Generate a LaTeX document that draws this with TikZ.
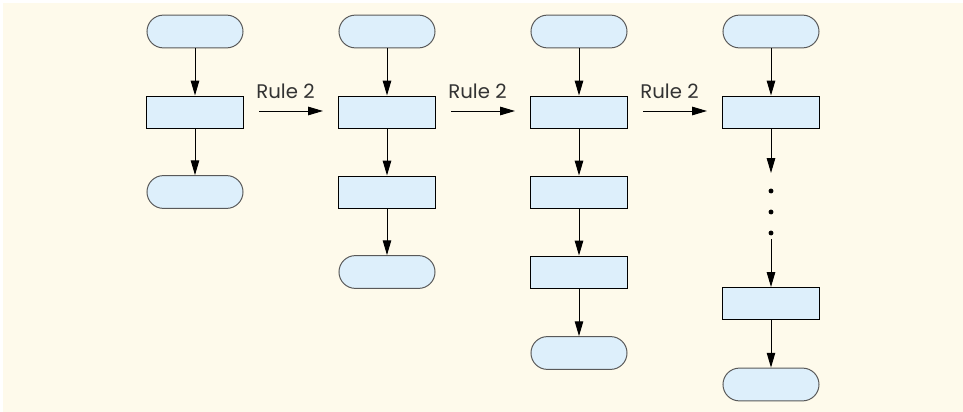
\documentclass[tikz,border=0pt]{standalone}
\usepackage{fontspec}
\setmainfont{Poppins}
\usetikzlibrary{arrows.meta}

\begin{document}
\begin{tikzpicture}[x=0.025cm, y=-0.025cm, >={Triangle[length=10.5pt,width=6pt]},
	font=\fontsize{14}{16}\selectfont,
	term/.style={draw=black!65, fill=boxblue, line width=0.7pt, minimum width=2.4cm, minimum height=0.82cm, rounded corners=0.41cm, inner sep=0pt},
	proc/.style={draw=black, fill=boxblue, line width=0.7pt, minimum width=2.4cm, minimum height=0.8cm, inner sep=0pt},
	flow/.style={->, line width=0.7pt},
	dot/.style={circle, fill=black, inner sep=0pt, minimum size=3.5pt}]
		\definecolor{cream}{RGB}{254,250,235}
		\definecolor{boxblue}{RGB}{221,239,251}
		
		% 背景
		\fill[white] (0,0) rectangle (963,412);
		\fill[cream] (3,3) rectangle (963,412);
		\useasboundingbox (0,0) rectangle (963,412);
		
		% 第一列
		\node[term] (t11) at (195,31.5) {};
		\node[proc] (p11) at (195,112) {};
		\node[term] (t12) at (195,192) {};
		\draw[flow] (t11) -- (p11);
		\draw[flow] (p11) -- (t12);
		
		% 第二列
		\node[term] (t21) at (387,31.5) {};
		\node[proc] (p21) at (387,112) {};
		\node[proc] (p22) at (387,192) {};
		\node[term] (t22) at (387,272) {};
		\draw[flow] (t21) -- (p21);
		\draw[flow] (p21) -- (p22);
		\draw[flow] (p22) -- (t22);
		
		% 第三列
		\node[term] (t31) at (579,31.5) {};
		\node[proc] (p31) at (579,112) {};
		\node[proc] (p32) at (579,192) {};
		\node[proc] (p33) at (579,272) {};
		\node[term] (t32) at (579,353) {};
		\draw[flow] (t31) -- (p31);
		\draw[flow] (p31) -- (p32);
		\draw[flow] (p32) -- (p33);
		\draw[flow] (p33) -- (t32);
		
		% 第四列（省略号）
		\node[term] (t41) at (771,31.5) {};
		\node[proc] (p41) at (771,112) {};
		\coordinate (c41) at (771,173);
		\node[dot] (d1) at (771,191) {};
		\node[dot] (d2) at (771,212) {};
		\node[dot] (d3) at (771,233) {};
		\coordinate (c42) at (771,239);
		\node[proc] (p42) at (771,303.5) {};
		\node[term] (t42) at (771,384.5) {};
		\draw[flow] (t41) -- (p41);
		\draw[flow] (p41) -- (c41);
		\draw[flow] (c42) -- (p42);
		\draw[flow] (p42) -- (t42);
		
		% Rule 2 箭头
		\coordinate (a1) at (259,111);
		\coordinate (b1) at (323,111);
		\coordinate (a2) at (451,111);
		\coordinate (b2) at (515,111);
		\coordinate (a3) at (643,111);
		\coordinate (b3) at (707,111);
		\draw[flow] (a1) -- (b1);
		\draw[flow] (a2) -- (b2);
		\draw[flow] (a3) -- (b3);
		\node[anchor=base, inner sep=0pt, text=black!80] (r1) at (285.5,99) {Rule 2};
		\node[anchor=base, inner sep=0pt, text=black!80] (r2) at (477.5,99) {Rule 2};
		\node[anchor=base, inner sep=0pt, text=black!80] (r3) at (669.5,99) {Rule 2};
	\end{tikzpicture}
\end{document}
